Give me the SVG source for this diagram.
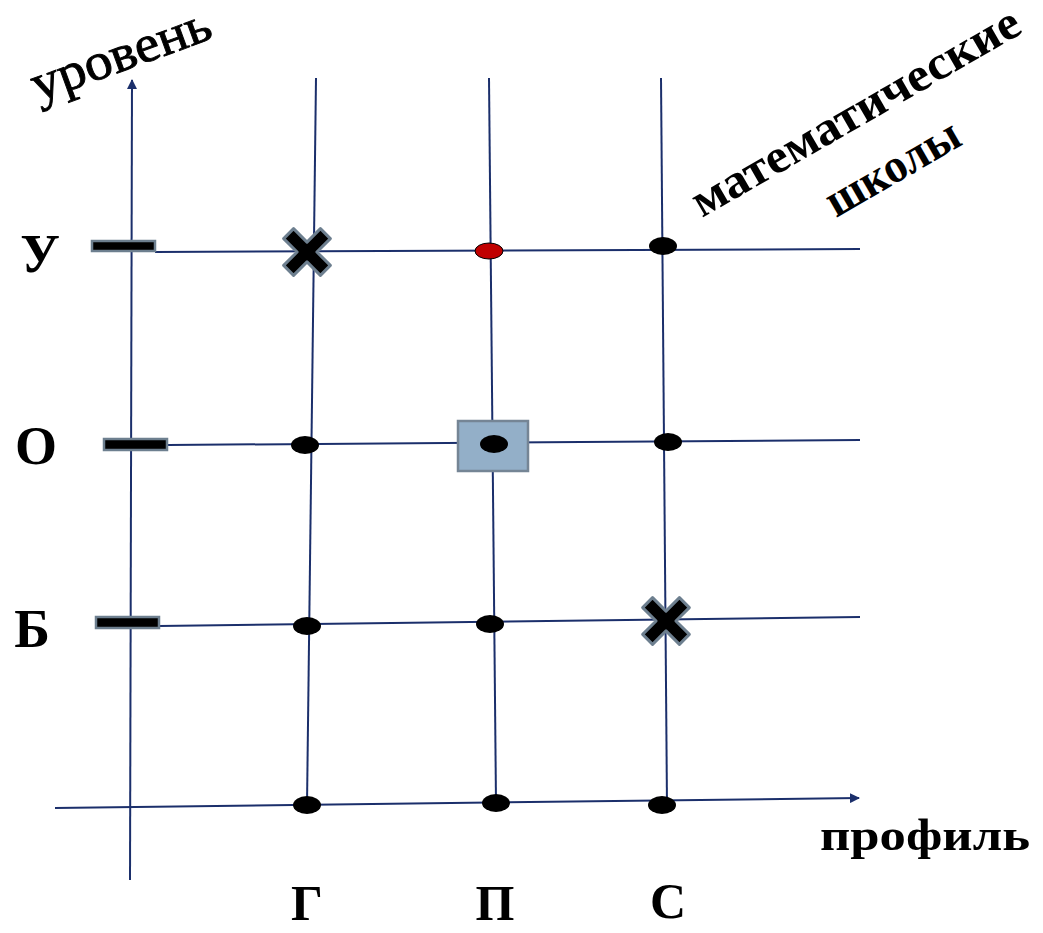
<svg xmlns="http://www.w3.org/2000/svg" width="1043" height="933" viewBox="0 0 1043 933">
<style>
.ln{stroke:#1b2f6b;stroke-width:2;fill:none}
.dot{fill:#000}
.dash{fill:#000;stroke:#6d7f8f;stroke-width:2.5}
.cross{fill:#000;stroke:#6d7f8f;stroke-width:3;stroke-linejoin:round}
.lbl{font-family:"Liberation Serif",serif;font-weight:bold;fill:#000}
.ax{font-family:"Liberation Serif",serif;fill:#000;stroke:#000;stroke-width:0.9}
</style>
<defs>
<marker id="arr" viewBox="0 0 10 10" refX="9" refY="5" markerWidth="5" markerHeight="5" orient="auto" markerUnits="strokeWidth">
<path d="M0,0 L10,5 L0,10 z" fill="#1b2f6b"/>
</marker>
<polygon id="x" points="-7,-26 7,-26 7,-7 26,-7 26,7 7,7 7,26 -7,26 -7,7 -26,7 -26,-7 -7,-7" transform="rotate(45)"/>
</defs>
<rect width="1043" height="933" fill="#fff"/>
<g id="connectors">
<line class="ln" x1="130" y1="880" x2="132" y2="80" marker-end="url(#arr)"/>
<line class="ln" x1="55" y1="808" x2="859" y2="798" marker-end="url(#arr)"/>
<line class="ln" x1="316" y1="78" x2="307" y2="805"/>
<line class="ln" x1="489" y1="78" x2="496" y2="803"/>
<line class="ln" x1="661" y1="78" x2="667" y2="806"/>
<line class="ln" x1="155" y1="252" x2="860" y2="249"/>
<line class="ln" x1="168" y1="445" x2="860" y2="440"/>
<line class="ln" x1="159" y1="626" x2="860" y2="617"/>
</g>
<g id="dash-U"><rect class="dash" x="92" y="241" width="63" height="10"/></g>
<g id="dash-O"><rect class="dash" x="104" y="439" width="63" height="11"/></g>
<g id="dash-B"><rect class="dash" x="96" y="617" width="63" height="11"/></g>
<g id="node-U-G"><use href="#x" class="cross" transform="translate(307,252)"/></g>
<g id="node-U-P"><ellipse cx="489" cy="251" rx="14" ry="8" fill="#c00000" stroke="#000" stroke-width="1"/></g>
<g id="node-U-S"><ellipse class="dot" cx="663" cy="246" rx="14" ry="9"/></g>
<g id="node-O-G"><ellipse class="dot" cx="305" cy="445" rx="14" ry="9"/></g>
<g id="node-O-P"><rect x="458" y="421" width="70" height="50" fill="#93afc8" stroke="#758595" stroke-width="2.5"/><ellipse class="dot" cx="494" cy="444" rx="14" ry="9"/></g>
<g id="node-O-S"><ellipse class="dot" cx="668" cy="442" rx="14" ry="9"/></g>
<g id="node-B-G"><ellipse class="dot" cx="307" cy="626" rx="14" ry="9"/></g>
<g id="node-B-P"><ellipse class="dot" cx="490" cy="624" rx="14" ry="9"/></g>
<g id="node-B-S"><use href="#x" class="cross" transform="translate(666,621)"/></g>
<g id="node-0-G"><ellipse class="dot" cx="307" cy="805" rx="14" ry="9"/></g>
<g id="node-0-P"><ellipse class="dot" cx="496" cy="803" rx="14" ry="9"/></g>
<g id="node-0-S"><ellipse class="dot" cx="662" cy="805" rx="14" ry="9"/></g>
<g id="labels">
<text class="lbl" x="40" y="272" font-size="54" text-anchor="middle">У</text>
<text class="lbl" x="36" y="464" font-size="54" text-anchor="middle">О</text>
<text class="lbl" x="32" y="647" font-size="54" text-anchor="middle">Б</text>
<text class="lbl" x="307" y="920" font-size="50" text-anchor="middle">Г</text>
<text class="lbl" x="495" y="920" font-size="50" text-anchor="middle">П</text>
<text class="lbl" x="668" y="918" font-size="50" text-anchor="middle">С</text>
<text class="lbl" x="820" y="850" font-size="44" textLength="210" lengthAdjust="spacingAndGlyphs">профиль</text>
<text class="ax" font-size="52" textLength="188" lengthAdjust="spacingAndGlyphs" transform="translate(38,102) rotate(-20)">уровень</text>
<text class="lbl" font-size="48" textLength="372" lengthAdjust="spacingAndGlyphs" transform="translate(702,218) rotate(-30)">математические</text>
<text class="lbl" font-size="48" textLength="148" lengthAdjust="spacingAndGlyphs" transform="translate(836,218) rotate(-30)">школы</text>
</g>
</svg>
